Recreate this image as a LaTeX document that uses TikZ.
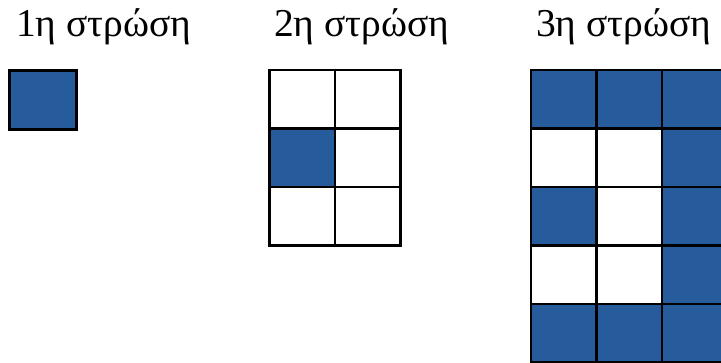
\documentclass[tikz,border=0pt]{standalone}
\usepackage{fontspec}
\setmainfont{Liberation Serif}
\definecolor{cellblue}{RGB}{38,92,155}
\begin{document}
\begin{tikzpicture}[x=1pt,y=-1pt,
  cell/.style={draw=black,line width=2.6pt,minimum width=65.5pt,minimum height=58.5pt,inner sep=0pt,outer sep=0pt},
  full/.style={cell,fill=cellblue},
  empty/.style={cell,fill=white},
  lbl/.style={anchor=base west,inner sep=0pt,font=\fontsize{39.5}{42}\selectfont}]
\useasboundingbox (0,0) rectangle (721,363);
\clip (0,0) rectangle (721,363);
\node[lbl] (t1) at (16,37) {1η στρώση};
\node[lbl] (t2) at (274,37) {2η στρώση};
\node[lbl] (t3) at (536,37) {3η στρώση};
% layer 1
\node[full,minimum width=66.5pt,minimum height=59.5pt] (a11) at (43,100) {};
% layer 2
\foreach \r/\y in {1/99.25,2/157.75,3/216.25}{
  \foreach \c/\x in {1/302.25,2/367.75}{
    \node[empty] (b\r\c) at (\x,\y) {};
  }
}
\node[full] at (b21) {};
% layer 3
\foreach \r/\y/\p in {1/99.25/111,2/157.75/001,3/216.25/101,4/274.75/001,5/333.25/111}{
  \foreach \c/\x in {1/563.75,2/629.25,3/694.75}{
    \pgfmathsetmacro\bit{int(mod(floor(\p/10^(3-\c)),10))}
    \ifnum\bit=1
      \node[full] (c\r\c) at (\x,\y) {};
    \else
      \node[empty] (c\r\c) at (\x,\y) {};
    \fi
  }
}
\end{tikzpicture}
\end{document}
